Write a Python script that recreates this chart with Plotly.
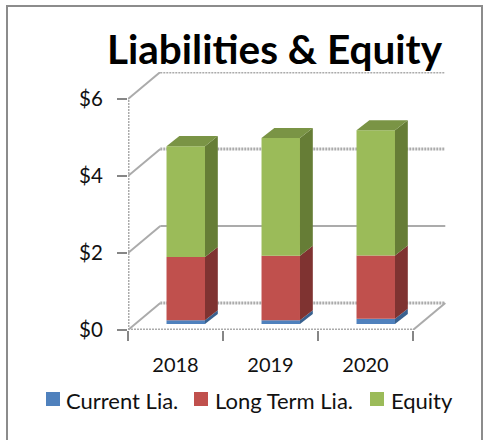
import plotly.graph_objects as go

years = ["2018", "2019", "2020"]
current_lia = [0.10, 0.10, 0.14]
long_term_lia = [1.64, 1.67, 1.64]
equity = [2.88, 3.06, 3.25]
tick_dollars = [0, 2, 4, 6]
legend_names = ["Current Lia.", "Long Term Lia.", "Equity"]

W, H = 486, 440
ML, MR, MT, MB = 128, 39, 72, 110
PW, PH = W - ML - MR, H - MT - MB
X0, X1 = -0.5, 2.858
Y0, Y1 = 0, 6.7
FONT = "Lato"
GRID = "#ababab"
AXIS = "#868686"

FACE = ["#4F81BD", "#C0504D", "#9BBB59"]
SIDE = ["#39618F", "#7F3331", "#667D36"]
TOP = ["#3F6797", "#99403D", "#7A9445"]

BAR_W = 0.405
SHIFT = 0.108      # floor inset of the bars
LIFT = 0.155
DX, DY = 0.135, 0.26   # bar depth
WX, WY = 0.34, 0.70    # wall depth

def px(x):
    return (x - ML) / PW

def py(y):
    return (H - MB - y) / PH

fig = go.Figure()
xs = list(range(len(years)))
series = [current_lia, long_term_lia, equity]
base = [LIFT] * len(years)

# 3D side and top faces, derived from the data
for k, vals in enumerate(series):
    for i, v in enumerate(vals):
        r = xs[i] + SHIFT + BAR_W / 2
        l = r - BAR_W
        b, t = base[i], base[i] + v
        fig.add_trace(go.Scatter(
            x=[r, r + DX, r + DX, r, r], y=[b, b + DY, t + DY, t, b],
            mode="lines", fill="toself", fillcolor=SIDE[k],
            line=dict(width=0), hoverinfo="skip", showlegend=False))
        if k == len(series) - 1:
            fig.add_trace(go.Scatter(
                x=[l, l + DX, r + DX, r, l], y=[t, t + DY, t + DY, t, t],
                mode="lines", fill="toself", fillcolor=TOP[k],
                line=dict(width=0), hoverinfo="skip", showlegend=False))
    # front faces
    fig.add_trace(go.Bar(
        x=[i + SHIFT for i in xs], y=vals, base=list(base), width=BAR_W,
        marker=dict(color=FACE[k], line=dict(width=0)),
        name=legend_names[k], showlegend=False, hoverinfo="skip"))
    base = [a + b for a, b in zip(base, vals)]

shapes = []
JAG = "2px,1px"
def seg(x0, y0, x1, y1, dash=JAG, color=GRID, width=3):
    shapes.append(dict(type="line", xref="x", yref="y", x0=x0, y0=y0, x1=x1, y1=y1,
                       layer="below", line=dict(color=color, width=width, dash=dash)))

for v in tick_dollars:
    if v == 2:
        seg(X0 + WX, v + WY, 2.5 + WX, v + WY, "solid", GRID, 2)
    else:
        seg(X0 + WX, v + WY, 2.5 + WX, v + WY)
    seg(X0, v, X0 + WX, v + WY, "solid", GRID, 2)
seg(X0, 0, X0, 6)
seg(X0, 0, 2.5, 0)
seg(2.5, 0, 2.5 + WX, WY, "solid", GRID, 2)

# Frame
shapes.append(dict(type="rect", xref="paper", yref="paper", x0=px(7), x1=px(482),
                   y0=py(446), y1=py(6), layer="below",
                   line=dict(color="#8c8c8c", width=2), fillcolor="rgba(0,0,0,0)"))

# Legend
annotations = []
swatch_x = [46, 194, 370]
text_x = [64, 213, 389]
for k, name in enumerate(legend_names):
    shapes.append(dict(type="rect", xref="paper", yref="paper",
                       x0=px(swatch_x[k]), x1=px(swatch_x[k] + 14),
                       y0=py(406), y1=py(392), fillcolor=FACE[k], line=dict(width=0)))
    annotations.append(dict(text=name, xref="paper", yref="paper", x=px(text_x[k]), y=py(400),
                            xanchor="left", yanchor="middle", showarrow=False,
                            font=dict(family=FONT, size=22, color="#111111")))

fig.update_layout(
    width=W, height=H, margin=dict(l=ML, r=MR, t=MT, b=MB),
    paper_bgcolor="white", plot_bgcolor="rgba(0,0,0,0)",
    barmode="overlay", showlegend=False, shapes=shapes, annotations=annotations,
    title=dict(text="<b>Liabilities &amp; Equity</b>", x=274.5 / W, xanchor="center",
               y=1 - 50 / H, yanchor="middle",
               font=dict(family=FONT, size=40.5, color="#000000")),
    xaxis=dict(range=[X0, X1], tickmode="array", tickvals=xs, ticktext=years,
               ticks="", showgrid=False, zeroline=False, showline=False,
               minor=dict(tickmode="array", tickvals=[-0.5, 0.5, 1.5, 2.5], ticks="outside",
                          ticklen=10, tickcolor=AXIS, tickwidth=2, showgrid=False),
               tickfont=dict(family=FONT, size=20, color="#111111"), ticklabelstandoff=21),
    yaxis=dict(range=[Y0, Y1], tickmode="array", tickvals=tick_dollars,
               ticktext=[f"${v}" for v in tick_dollars],
               ticks="outside", ticklen=10, tickcolor=AXIS, tickwidth=2,
               showgrid=False, zeroline=False, showline=False, ticklabelstandoff=10,
               tickfont=dict(family=FONT, size=20.5, color="#111111")),
)

fig.write_html("out.html", config=dict(displayModeBar=False),
               post_script="document.body.style.margin='0';")
